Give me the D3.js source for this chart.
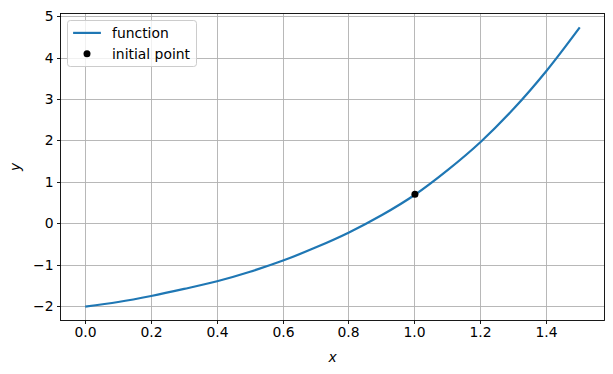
<!DOCTYPE html>
<html><head><meta charset="utf-8">
<script src="https://cdn.jsdelivr.net/npm/d3@7"></script>
<style>html,body{margin:0;padding:0;background:#fff}svg{display:block;font-family:"DejaVu Sans",sans-serif}</style>
</head><body>
<svg id="c" width="613" height="374"></svg>
<script>
// Data
const xValues = [0, 0.1, 0.2, 0.3, 0.4, 0.5, 0.6, 0.7, 0.8, 0.9, 1.0, 1.1, 1.2, 1.3, 1.4, 1.5];
const yValues = [-2.0, -1.89, -1.745, -1.575, -1.39, -1.16, -0.89, -0.57, -0.21, 0.21, 0.70, 1.30, 1.98, 2.78, 3.70, 4.74];
const initialPoint = [{x: 1.0, y: 0.71}];
const xTicks = [0.0, 0.2, 0.4, 0.6, 0.8, 1.0, 1.2, 1.4];
const yTicks = [-2, -1, 0, 1, 2, 3, 4, 5];
const legendLabels = ["function", "initial point"];

const data = xValues.map((x, i) => ({x, y: yValues[i]}));
const svg = d3.select("#c");
const L = 60.5, R = 604.5, T = 13.5, B = 320.5;

const xmin = d3.min(xValues), xmax = d3.max(xValues);
const ymin = d3.min(yValues), ymax = d3.max(yValues);
const xpad = (xmax - xmin) * 0.05, ypad = (ymax - ymin) * 0.05;
const x = d3.scaleLinear().domain([xmin - xpad, xmax + xpad]).range([L, R]);
const y = d3.scaleLinear().domain([ymin - ypad, ymax + ypad]).range([B, T]);
const snap = v => Math.round(v - 0.5) + 0.5;

const fs = 13.9;
// grid
const g = svg.append("g");
g.selectAll(".gx").data(xTicks).join("line")
  .attr("x1", d => snap(x(d))).attr("x2", d => snap(x(d))).attr("y1", T).attr("y2", B)
  .attr("stroke", "#b0b0b0").attr("stroke-width", 0.9);
g.selectAll(".gy").data(yTicks).join("line")
  .attr("y1", d => snap(y(d))).attr("y2", d => snap(y(d))).attr("x1", L).attr("x2", R)
  .attr("stroke", "#b0b0b0").attr("stroke-width", 0.9);

// axes via d3 axis
const fmtX = d => d3.format(".1f")(d);
const fmtY = d => (d < 0 ? "\u2212" + Math.abs(d) : String(d));
const xAxis = svg.append("g").attr("transform", `translate(0,${B})`)
  .call(d3.axisBottom(x).tickValues(xTicks).tickFormat(fmtX).tickSize(3.5).tickPadding(3.5).tickSizeOuter(0));
const yAxis = svg.append("g").attr("transform", `translate(${L},0)`)
  .call(d3.axisLeft(y).tickValues(yTicks).tickFormat(fmtY).tickSize(3.5).tickPadding(3.5).tickSizeOuter(0));
[xAxis, yAxis].forEach(a => {
  a.select(".domain").remove();
  a.selectAll(".tick line").attr("stroke", "#000").attr("stroke-width", 0.9);
  a.selectAll(".tick text").attr("fill", "#000").attr("font-size", fs).attr("font-family", "DejaVu Sans");
});
xAxis.selectAll(".tick").attr("transform", d => `translate(${snap(x(d))},0)`);
yAxis.selectAll(".tick").attr("transform", d => `translate(0,${snap(y(d))})`);

// line
svg.append("path").datum(data)
  .attr("d", d3.line().x(d => x(d.x)).y(d => y(d.y)).curve(d3.curveCatmullRom.alpha(0.5)))
  .attr("fill", "none").attr("stroke", "#1f77b4").attr("stroke-width", 2.2)
  .attr("stroke-linecap", "butt");
// point
svg.selectAll(".pt").data(initialPoint).join("circle")
  .attr("cx", d => x(d.x)).attr("cy", d => y(d.y)).attr("r", 3.5).attr("fill", "#000");

// spines
svg.append("rect").attr("x", L).attr("y", T).attr("width", R - L).attr("height", B - T)
  .attr("fill", "none").attr("stroke", "#000").attr("stroke-width", 0.9);

// axis labels
svg.append("text").attr("x", (L + R) / 2).attr("y", 362).attr("text-anchor", "middle")
  .attr("font-size", fs).attr("font-style", "italic").text("x");
svg.append("text").attr("transform", `translate(20,${(T + B) / 2}) rotate(-90)`)
  .attr("text-anchor", "middle").attr("font-size", fs).attr("font-style", "italic").text("y");

// legend
const lx = 67.5, ly = 20.5;
const leg = svg.append("g");
const lw = 129, lh = 46;
leg.append("rect").attr("x", lx).attr("y", ly).attr("width", lw).attr("height", lh)
  .attr("rx", 2.8).attr("fill", "#fff").attr("fill-opacity", 0.8)
  .attr("stroke", "#cccccc").attr("stroke-width", 1);
const r1 = ly + 12.4, r2 = r1 + 20.9;
const hx0 = lx + 5.6, hx1 = hx0 + 27.8, tx = hx1 + 11.1;
leg.append("line").attr("x1", hx0).attr("x2", hx1).attr("y1", r1).attr("y2", r1)
  .attr("stroke", "#1f77b4").attr("stroke-width", 2.2);
leg.append("circle").attr("cx", (hx0 + hx1) / 2).attr("cy", r2).attr("r", 3.5).attr("fill", "#000");
leg.selectAll(".lt").data(legendLabels).join("text")
  .attr("x", tx).attr("y", (d, i) => (i === 0 ? r1 : r2)).attr("dy", "0.35em")
  .attr("font-size", fs).attr("fill", "#000").text(d => d);
</script>
</body></html>
